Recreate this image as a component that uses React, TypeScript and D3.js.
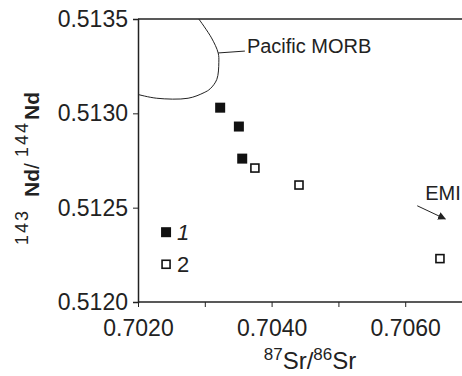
import { useRef, useEffect } from 'react';
import { select, scaleLinear, axisLeft, axisBottom, line, curveCatmullRom } from 'd3';

// series 1 (filled) and series 2 (open): [87Sr/86Sr, 143Nd/144Nd]
const series1 = [
  [0.70323, 0.51303],
  [0.70351, 0.51293],
  [0.70356, 0.51276],
];
const series2 = [
  [0.70375, 0.51271],
  [0.70441, 0.51262],
  [0.70652, 0.51223],
];
// outline of the Pacific MORB field
const morbField = [
  [0.70291, 0.5135],
  [0.7031, 0.5134],
  [0.7032, 0.51332],
  [0.70321, 0.51327],
  [0.70318, 0.51318],
  [0.70308, 0.51313],
  [0.70299, 0.51311],
  [0.70275, 0.51308],
  [0.70228, 0.51308],
  [0.702, 0.5131],
];
const xTicks = [0.702, 0.703, 0.704, 0.705, 0.706];
const xLabels = [0.702, 0.704, 0.706];
const yTicks = [0.512, 0.5125, 0.513, 0.5135];
const legendLabels = ['1', '2'];

const W = 462;
const H = 376;
const FONT = 'Liberation Sans, Arial, sans-serif';
const INK = '#222';

const App = () => {
  const svgRef = useRef(null);

  useEffect(() => {
    const svg = select(svgRef.current);
    svg.selectAll('*').remove();

    const x = scaleLinear().domain([0.702, 0.70685]).range([138, W]);
    const y = scaleLinear().domain([0.512, 0.5135]).range([302, 19]);

    // frame: top line
    svg
      .append('line')
      .attr('x1', x(0.702))
      .attr('x2', W)
      .attr('y1', y(0.5135))
      .attr('y2', y(0.5135))
      .attr('stroke', INK)
      .attr('stroke-width', 1.5);

    // y axis
    const yAxis = svg
      .append('g')
      .attr('transform', `translate(${x(0.702)},0)`)
      .call(
        axisLeft(y)
          .tickValues(yTicks)
          .tickSize(5)
          .tickPadding(5)
          .tickFormat((d) => d.toFixed(4))
      );
    // x axis
    const xAxis = svg
      .append('g')
      .attr('transform', `translate(0,${y(0.512)})`)
      .call(
        axisBottom(x)
          .tickValues(xTicks)
          .tickSize(5)
          .tickPadding(13)
          .tickFormat((d) => (xLabels.includes(d) ? d.toFixed(4) : ''))
      );
    [xAxis, yAxis].forEach((g) => {
      g.select('.domain').attr('stroke', INK).attr('stroke-width', 1.5);
      g.selectAll('.tick line').attr('stroke', INK).attr('stroke-width', 1);
      g.selectAll('text')
        .attr('fill', INK)
        .style('font-family', FONT)
        .style('font-size', '23px');
    });
    xAxis.select('.domain').attr('d', `M${x(0.702)},0H${W}`);

    // MORB field
    svg
      .append('path')
      .attr('d', line().x((d) => x(d[0])).y((d) => y(d[1])).curve(curveCatmullRom)(morbField))
      .attr('fill', 'none')
      .attr('stroke', INK)
      .attr('stroke-width', 1);
    svg
      .append('line')
      .attr('x1', x(0.7032))
      .attr('y1', y(0.51332))
      .attr('x2', x(0.7036))
      .attr('y2', y(0.51333))
      .attr('stroke', INK)
      .attr('stroke-width', 1);
    svg
      .append('text')
      .attr('x', x(0.70363))
      .attr('y', y(0.51332))
      .attr('fill', INK)
      .style('font-family', FONT)
      .style('font-size', '20px')
      .text('Pacific MORB');

    // EMI arrow
    svg
      .append('defs')
      .append('marker')
      .attr('id', 'arr')
      .attr('viewBox', '0 0 10 10')
      .attr('refX', 9)
      .attr('refY', 5)
      .attr('markerWidth', 8)
      .attr('markerHeight', 8)
      .attr('markerUnits', 'userSpaceOnUse')
      .attr('orient', 'auto')
      .append('path')
      .attr('d', 'M0,0L10,5L0,10z')
      .attr('fill', INK);
    svg
      .append('line')
      .attr('x1', x(0.70618))
      .attr('y1', y(0.51251))
      .attr('x2', x(0.7066))
      .attr('y2', y(0.51244))
      .attr('stroke', INK)
      .attr('stroke-width', 1)
      .attr('marker-end', 'url(#arr)');
    svg
      .append('text')
      .attr('x', x(0.7063))
      .attr('y', y(0.51254))
      .attr('fill', INK)
      .style('font-family', FONT)
      .style('font-size', '20px')
      .text('EMI');

    // points
    svg
      .selectAll('.s1')
      .data(series1)
      .join('rect')
      .attr('class', 's1')
      .attr('x', (d) => x(d[0]) - 5)
      .attr('y', (d) => y(d[1]) - 5)
      .attr('width', 10)
      .attr('height', 10)
      .attr('fill', '#111');
    svg
      .selectAll('.s2')
      .data(series2)
      .join('rect')
      .attr('class', 's2')
      .attr('x', (d) => x(d[0]) - 4)
      .attr('y', (d) => y(d[1]) - 4)
      .attr('width', 8)
      .attr('height', 8)
      .attr('fill', '#fff')
      .attr('stroke', '#111')
      .attr('stroke-width', 1.6);

    // legend
    const legY = [0.51237, 0.5122];
    legendLabels.forEach((lab, i) => {
      const cx = x(0.70242);
      const cy = y(legY[i]);
      svg
        .append('rect')
        .attr('x', cx - (i ? 4 : 5))
        .attr('y', cy - (i ? 4 : 5))
        .attr('width', i ? 8 : 10)
        .attr('height', i ? 8 : 10)
        .attr('fill', i ? '#fff' : '#111')
        .attr('stroke', i ? '#111' : 'none')
        .attr('stroke-width', 1.6);
      svg
        .append('text')
        .attr('x', cx + 11)
        .attr('y', cy + 8)
        .attr('fill', INK)
        .style('font-family', FONT)
        .style('font-size', '22px')
        .style('font-style', i ? 'normal' : 'italic')
        .text(lab);
    });

    // axis titles
    const xt = svg
      .append('text')
      .attr('x', 310)
      .attr('y', 369)
      .attr('text-anchor', 'middle')
      .attr('fill', INK)
      .style('font-family', FONT)
      .style('font-size', '24px');
    xt.append('tspan').attr('dy', -9).style('font-size', '17px').text('87');
    xt.append('tspan').attr('dy', 9).text('Sr/');
    xt.append('tspan').attr('dy', -9).style('font-size', '17px').text('86');
    xt.append('tspan').attr('dy', 9).text('Sr');

    // y title, laid out along the rotated baseline (starts at the bottom)
    const yt = svg
      .append('text')
      .attr('transform', `translate(39,245) rotate(-90)`)
      .attr('fill', INK)
      .style('font-family', FONT)
      .style('font-size', '21px');
    const sup = { fontSize: '18px', letterSpacing: '2px' };
    yt.append('tspan').attr('x', 0).attr('y', -11).style('font-size', sup.fontSize).style('letter-spacing', sup.letterSpacing).text('143');
    yt.append('tspan').attr('x', 48).attr('y', 0).style('font-weight', 'bold').text('Nd');
    yt.append('tspan').attr('x', 76).attr('y', 0).text('/');
    yt.append('tspan').attr('x', 88).attr('y', -11).style('font-size', sup.fontSize).style('letter-spacing', sup.letterSpacing).text('144');
    yt.append('tspan').attr('x', 125).attr('y', 0).style('font-weight', 'bold').text('Nd');
  }, []);

  return (
    <svg
      ref={svgRef}
      width={W}
      height={H}
      style={{ position: 'absolute', left: 0, top: 0, background: '#fff' }}
    ></svg>
  );
};

export default App;
